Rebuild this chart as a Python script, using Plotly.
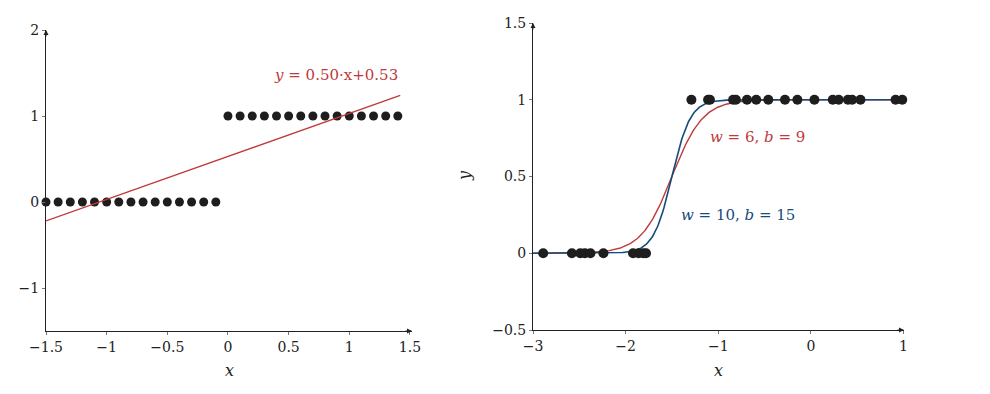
import numpy as np
import plotly.graph_objects as go

# ---------------- data ----------------
left_x0 = [-1.5, -1.4, -1.3, -1.2, -1.1, -1.0, -0.9, -0.8, -0.7, -0.6, -0.5, -0.4, -0.3, -0.2, -0.1]
left_y0 = [0] * 15
left_x1 = [0.0, 0.1, 0.2, 0.3, 0.4, 0.5, 0.6, 0.7, 0.8, 0.9, 1.0, 1.1, 1.2, 1.3, 1.4]
left_y1 = [1] * 15
fit_slope = 0.50
fit_intercept = 0.53
fit_x = [-1.5, 1.42]

right_x0 = [-2.89, -2.58, -2.49, -2.44, -2.38, -2.24, -1.92, -1.86, -1.81, -1.78]
right_y0 = [0] * 10
right_x1 = [-1.29, -1.11, -1.09, -0.84, -0.81, -0.69, -0.59, -0.46, -0.28, -0.146,
            0.038, 0.236, 0.30, 0.40, 0.445, 0.535, 0.914, 0.986]
right_y1 = [1] * 18
sig_params = [(6, 9), (10, 15)]  # (w, b)

left_xticks = [-1.5, -1, -0.5, 0, 0.5, 1, 1.5]
left_yticks = [-1, 0, 1, 2]
right_xticks = [-3, -2, -1, 0, 1]
right_yticks = [-0.5, 0, 0.5, 1, 1.5]

RED = "#c0393b"
BLUE = "#164b7d"
DOT = "#1e1e1e"
FONT = "DejaVu Serif"

W, H = 990, 394
OFF = 8  # page body margin

def fx(px):
    return (px - OFF) / W

def fy(py):
    return (H - (py - OFF)) / H

fig = go.Figure()

# left plot
fig.add_trace(go.Scatter(x=left_x0 + left_x1, y=left_y0 + left_y1, mode="markers",
                         marker=dict(color=DOT, size=9), xaxis="x", yaxis="y",
                         cliponaxis=False, showlegend=False))
fx_line = np.array(fit_x)
fig.add_trace(go.Scatter(x=fx_line, y=fit_slope * fx_line + fit_intercept, mode="lines",
                         line=dict(color=RED, width=1.4), xaxis="x", yaxis="y",
                         showlegend=False))

# right plot
xs = np.linspace(-3, 1, 400)
w, b = sig_params[0]
fig.add_trace(go.Scatter(x=xs, y=1 / (1 + np.exp(-(w * xs + b))), mode="lines",
                         line=dict(color=RED, width=1.4), xaxis="x2", yaxis="y2",
                         showlegend=False))
w, b = sig_params[1]
fig.add_trace(go.Scatter(x=xs, y=1 / (1 + np.exp(-(w * xs + b))), mode="lines",
                         line=dict(color=BLUE, width=1.6), xaxis="x2", yaxis="y2",
                         showlegend=False))
fig.add_trace(go.Scatter(x=right_x0 + right_x1, y=right_y0 + right_y1, mode="markers",
                         marker=dict(color=DOT, size=10), xaxis="x2", yaxis="y2",
                         cliponaxis=False, showlegend=False))

axis_common = dict(showgrid=False, zeroline=False, showline=True, linecolor="#222",
                   linewidth=1, ticks="outside", ticklen=3, tickcolor="#777",
                   automargin=False,
                   tickfont=dict(family=FONT, size=14, color="#222"))

fig.update_layout(
    width=W, height=H, margin=dict(l=0, r=0, t=0, b=0, autoexpand=False),
    paper_bgcolor="white", plot_bgcolor="white",
    xaxis=dict(domain=[fx(46), fx(412)], range=[-1.5, 1.517], tickvals=left_xticks,
               anchor="y", **axis_common),
    yaxis=dict(domain=[fy(331), fy(30)], range=[-1.5, 2.0], tickvals=left_yticks,
               anchor="x", **axis_common),
    xaxis2=dict(domain=[fx(533), fx(904)], range=[-3, 1.005], tickvals=right_xticks,
                anchor="y2", **axis_common),
    yaxis2=dict(domain=[fy(330), fy(23)], range=[-0.5, 1.5], tickvals=right_yticks,
                anchor="x2", **axis_common),
)

ann = []
# axis arrows
for xr, yr, x, y, axt, ayt in [("x", "y", 1.517, -1.5, -8, 0), ("x", "y", -1.5, 2.0, 0, 8),
                               ("x2", "y2", 1.005, -0.5, -8, 0), ("x2", "y2", -3, 1.5, 0, 8)]:
    ann.append(dict(x=x, y=y, xref=xr, yref=yr, ax=axt, ay=ayt, showarrow=True,
                    arrowhead=2, arrowsize=1, arrowwidth=1, arrowcolor="#222", text=""))

def label(px, py, text, size, color, angle=0):
    return dict(x=fx(px), y=fy(py), xref="paper", yref="paper", text=text,
                xanchor="center", yanchor="middle", textangle=angle,
                showarrow=False, font=dict(family=FONT, size=size, color=color))

ann.append(label(229, 370, "<i>x</i>", 16, "#222"))
ann.append(label(718, 370, "<i>x</i>", 16, "#222"))
ann.append(label(465, 176, "<i>y</i>", 16, "#222", -90))
ann.append(label(336, 75, "<i>y</i> = 0.50·x+0.53", 15, RED))
ann.append(label(757, 137, "<i>w</i> = 6, <i>b</i> = 9", 15, RED))
ann.append(label(738, 215, "<i>w</i> = 10, <i>b</i> = 15", 15, BLUE))
fig.update_layout(annotations=ann)

fig.write_html("out.html")
